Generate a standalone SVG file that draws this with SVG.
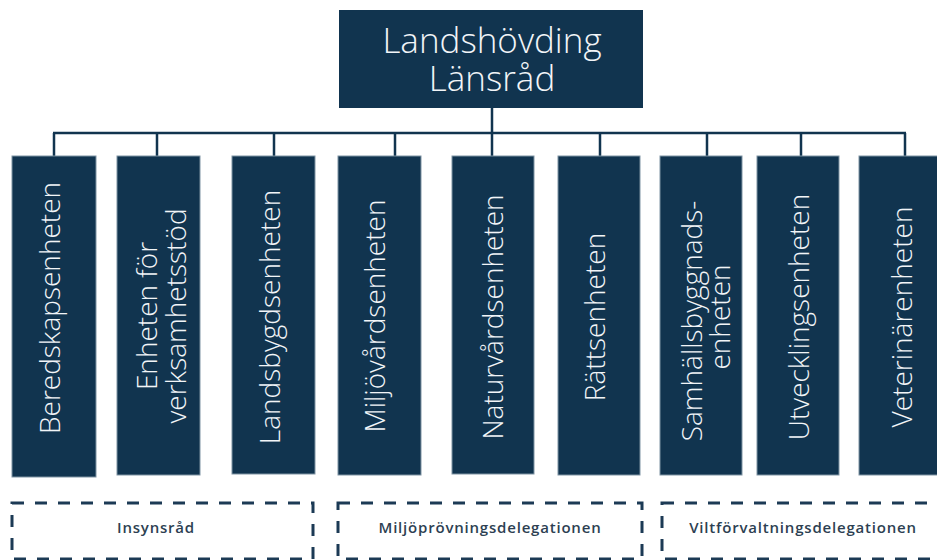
<svg xmlns="http://www.w3.org/2000/svg" width="937" height="560" viewBox="0 0 937 560">
<style>
.box{fill:#11344f;stroke:#7f93a3;stroke-width:1}
.top{fill:#11344f}
.bt{fill:#f2f5f8;font-family:"Open Sans","Noto Sans",sans-serif;font-weight:300;font-size:28px;text-anchor:middle}
.tt{fill:#f2f5f8;font-family:"Open Sans","Noto Sans",sans-serif;font-weight:300;font-size:35px;text-anchor:middle}
.con{fill:none;stroke:#11344f;stroke-width:2.5}
.grp{fill:#fff;stroke:#1c3a55;stroke-width:3;stroke-dasharray:12 11}
.gt{fill:#2d3f52;font-family:"Open Sans","Noto Sans",sans-serif;font-weight:600;font-size:15px;letter-spacing:0.8px;text-anchor:middle}
</style>
<rect width="937" height="560" fill="#fff"/>
<g id="connectors">
<path class="con" d="M492 108V133M53 133H906M54 133V156M157 133V156M274 133V156M395 133V156M492 133V156M600 133V156M707 133V156M801 133V156M905 133V156"/>
</g>
<g id="n0">
<rect class="top" x="339" y="10" width="304" height="98"/>
<text class="tt" x="492" y="53">Landshövding</text>
<text class="tt" x="492" y="91">Länsråd</text>
</g>
<g id="n1"><rect class="box" x="12" y="156" width="84" height="321"/><text class="bt" transform="translate(60,308) rotate(-90)">Beredskapsenheten</text></g>
<g id="n2"><rect class="box" x="117" y="156" width="83" height="319"/><text class="bt" transform="translate(157,316) rotate(-90)">Enheten för</text><text class="bt" transform="translate(186,316) rotate(-90)">verksamhetsstöd</text></g>
<g id="n3"><rect class="box" x="232" y="156" width="83" height="318"/><text class="bt" transform="translate(280,317) rotate(-90)">Landsbygdsenheten</text></g>
<g id="n4"><rect class="box" x="338" y="156" width="83" height="319"/><text class="bt" transform="translate(385,316) rotate(-90)">Miljövårdsenheten</text></g>
<g id="n5"><rect class="box" x="452" y="156" width="82" height="318"/><text class="bt" transform="translate(503,317) rotate(-90)">Naturvårdsenheten</text></g>
<g id="n6"><rect class="box" x="558" y="156" width="82" height="319"/><text class="bt" transform="translate(605,317) rotate(-90)">Rättsenheten</text></g>
<g id="n7"><rect class="box" x="660" y="156" width="82" height="319"/><text class="bt" transform="translate(702,321) rotate(-90)">Samhällsbyggnads-</text><text class="bt" transform="translate(730,317) rotate(-90)">enheten</text></g>
<g id="n8"><rect class="box" x="757" y="156" width="82" height="319"/><text class="bt" transform="translate(809,317) rotate(-90)">Utvecklingsenheten</text></g>
<g id="n9"><rect class="box" x="859" y="156" width="86" height="319"/><text class="bt" transform="translate(912,317) rotate(-90)">Veterinärenheten</text></g>
<g id="g1"><rect class="grp" x="12" y="503" width="301" height="56"/><text class="gt" x="156" y="533">Insynsråd</text></g>
<g id="g2"><rect class="grp" x="338" y="503" width="304" height="56"/><text class="gt" x="490" y="533">Miljöprövningsdelegationen</text></g>
<g id="g3"><rect class="grp" x="662" y="503" width="290" height="56"/><text class="gt" x="803" y="533">Viltförvaltningsdelegationen</text></g>
</svg>
